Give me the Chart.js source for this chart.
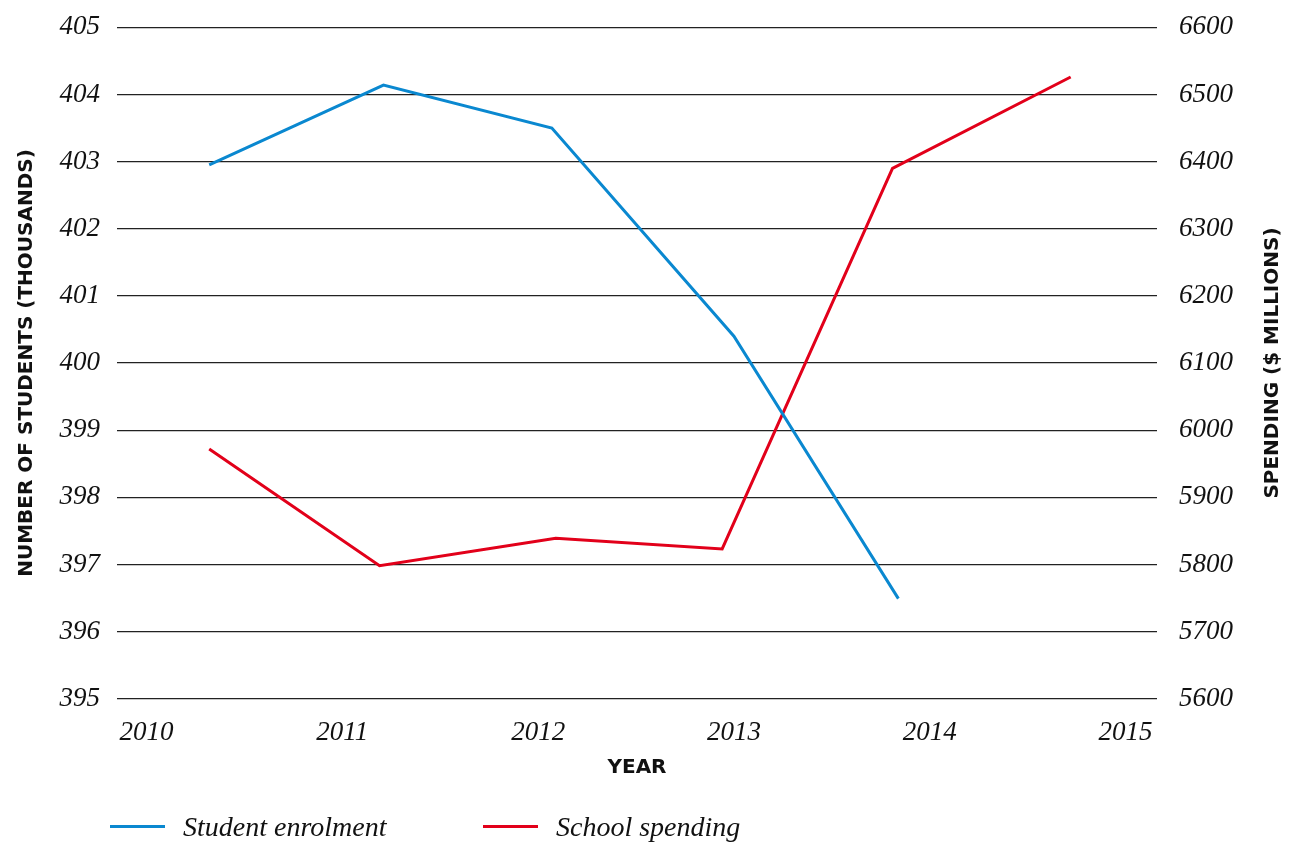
<!DOCTYPE html>
<html>
<head>
<meta charset="utf-8">
<script src="https://cdn.jsdelivr.net/npm/chart.js@4/dist/chart.umd.min.js"></script>
<style>
  html, body { margin: 0; padding: 0; background: #ffffff; }
  #wrap { position: relative; width: 1308px; height: 845px; }
  canvas { display: block; }
  #legend { position: absolute; top: 808px; left: 0; width: 1308px; height: 37px; }
  .item { position: absolute; top: 0; height: 37px; display: flex; align-items: center;
          font-family: "Liberation Serif", serif; font-style: italic; font-size: 28px; color: #111; white-space: nowrap; }
  .swatch { width: 55px; height: 3px; margin-right: 18px; }
</style>
</head>
<body>
<div id="wrap">
  <canvas id="c" width="1308" height="845"></canvas>
  <div id="legend"></div>
</div>
<script>
// ---- data ----
const seriesNames = ["Student enrolment", "School spending"];
const enrolmentYears = [2010.32, 2011.21, 2012.07, 2013.0, 2013.84];
const enrolmentValues = [402.95, 404.14, 403.50, 400.40, 396.49];
const spendingYears = [2010.32, 2011.19, 2012.09, 2012.94, 2013.81, 2014.72];
const spendingValues = [5972, 5798, 5839, 5823, 6390, 6526];
const yearTicks = [2010, 2011, 2012, 2013, 2014, 2015];
const leftTitle = "NUMBER OF STUDENTS (THOUSANDS)";
const rightTitle = "SPENDING ($ MILLIONS)";
const xTitle = "YEAR";

const BLUE = "#0a88d0";
const RED = "#e2001a";
const serifItalic = { family: "'Liberation Serif', serif", style: "italic", size: 27 };
const sansBold = { family: "'DejaVu Sans', sans-serif", weight: "bold", size: 20 };

const rightTitlePlugin = {
  id: "rightTitle",
  afterDraw(chart) {
    const ctx = chart.ctx;
    const a = chart.chartArea;
    ctx.save();
    ctx.translate(1273, (a.top + a.bottom) / 2);
    ctx.rotate(-Math.PI / 2);
    ctx.textAlign = "center";
    ctx.textBaseline = "middle";
    ctx.fillStyle = "#111";
    ctx.font = "bold 20px 'DejaVu Sans', sans-serif";
    ctx.fillText(rightTitle, 0, 0);
    ctx.restore();
  }
};

function fixVertical(width) {
  return (axis) => {
    axis.width = width;
    axis.paddingTop = 0;
    axis.paddingBottom = 0;
  };
}

const chart = new Chart(document.getElementById("c"), {
  type: "line",
  data: {
    datasets: [
      {
        label: seriesNames[0],
        data: enrolmentYears.map((x, i) => ({ x, y: enrolmentValues[i] })),
        borderColor: BLUE,
        backgroundColor: BLUE,
        borderWidth: 3,
        pointRadius: 0,
        tension: 0,
        yAxisID: "y"
      },
      {
        label: seriesNames[1],
        data: spendingYears.map((x, i) => ({ x, y: spendingValues[i] })),
        borderColor: RED,
        backgroundColor: RED,
        borderWidth: 3,
        pointRadius: 0,
        tension: 0,
        yAxisID: "y1"
      }
    ]
  },
  options: {
    responsive: false,
    animation: false,
    layout: { padding: { top: 27.3, bottom: 61, left: 0, right: 0 } },
    plugins: {
      legend: { display: false },
      tooltip: { enabled: false }
    },
    scales: {
      x: {
        type: "linear",
        min: 2009.849,
        max: 2015.161,
        afterBuildTicks: (axis) => { axis.ticks = yearTicks.map(v => ({ value: v })); },
        afterFit: (axis) => { axis.height = 85.3; axis.paddingLeft = 0; axis.paddingRight = 0; },
        grid: { display: false, drawTicks: false },
        border: { display: false },
        ticks: {
          font: serifItalic,
          color: "#111",
          padding: 18,
          maxRotation: 0,
          autoSkip: false,
          callback: (v) => String(v)
        },
        title: {
          display: true,
          text: xTitle,
          font: sansBold,
          color: "#111",
          padding: { top: 0, bottom: 4 }
        }
      },
      y: {
        position: "left",
        min: 395,
        max: 405,
        afterFit: fixVertical(117),
        ticks: {
          stepSize: 1,
          font: serifItalic,
          color: "#111",
          padding: 17,
          callback: (v) => String(v)
        },
        grid: { color: "#222", lineWidth: 1.2, drawTicks: false },
        border: { display: false },
        title: {
          display: true,
          text: leftTitle,
          font: sansBold,
          color: "#111",
          padding: { top: 15, bottom: 0 }
        }
      },
      y1: {
        position: "right",
        min: 5600,
        max: 6600,
        afterFit: fixVertical(151),
        ticks: {
          stepSize: 100,
          font: serifItalic,
          color: "#111",
          padding: 22,
          callback: (v) => String(v)
        },
        grid: { display: false, drawTicks: false },
        border: { display: false }
      }
    }
  },
  plugins: [rightTitlePlugin]
});

// HTML legend built from the datasets
const legendEl = document.getElementById("legend");
const legendLefts = [110, 483];
chart.data.datasets.forEach((ds, i) => {
  const item = document.createElement("div");
  item.className = "item";
  item.style.left = legendLefts[i] + "px";
  const sw = document.createElement("span");
  sw.className = "swatch";
  sw.style.background = ds.borderColor;
  const tx = document.createElement("span");
  tx.textContent = ds.label;
  item.appendChild(sw);
  item.appendChild(tx);
  legendEl.appendChild(item);
});
</script>
</body>
</html>
